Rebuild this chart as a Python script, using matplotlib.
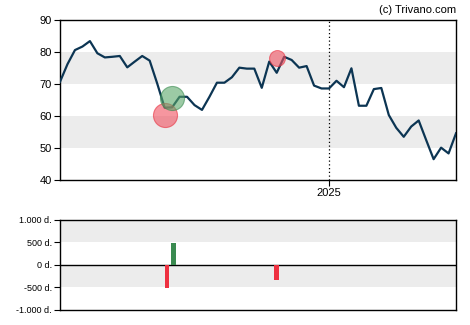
import matplotlib
matplotlib.use('Agg')
import matplotlib.pyplot as plt

# weekly closing prices
prices = [70.7, 76.2, 80.6, 81.7, 83.4, 79.6, 78.3, 78.5, 78.75, 75.2,
          77.0, 78.75, 77.3, 70.2, 62.6, 62.7, 66.0, 66.0, 63.4, 61.9,
          66.0, 70.4, 70.4, 72.1, 75.1, 74.8, 74.8, 68.8, 77.0, 73.5,
          78.5, 77.5, 75.1, 75.6, 69.5, 68.6, 68.6, 71.0, 69.0, 74.9,
          63.2, 63.2, 68.4, 68.75, 60.3, 56.3, 53.5, 56.7, 58.6, 52.5,
          46.5, 50.1, 48.3, 54.6]
year_start = 36
year_label = '2025'

# signal bubbles: position, price level, size, kind
bubble_x = [14.0, 15.05, 29.0]
bubble_y = [60.2, 65.5, 78.0]
bubble_s = [300, 300, 130]
bubble_kind = ['sell', 'buy', 'sell']

# insider volume bars (thousands)
bar_x = [14.3, 15.2, 29.0]
bar_v = [-510, 490, -330]

main_ticks = [40, 50, 60, 70, 80, 90]
vol_ticks = [-1000, -500, 0, 500, 1000]
vol_labels = ['-1.000 d.', '-500 d.', '0 d.', '500 d.', '1.000 d.']

plt.rcParams['font.family'] = ['Liberation Sans', 'DejaVu Sans']

fig = plt.figure(figsize=(4.7, 3.25), dpi=100)
ax = fig.add_axes([0.1277, 0.4462, 0.8426, 0.4923])
ax2 = fig.add_axes([0.1277, 0.0462, 0.8426, 0.2769])

colors = {'buy': ('#5aa86a', '#3a8a50'), 'sell': ('#f0505f', '#e8303f')}

# main price chart
for lo, hi in [(50, 60), (70, 80)]:
    ax.axhspan(lo, hi, color='#ececec', zorder=0, lw=0)
ax.plot(range(len(prices)), prices, color='#0c3553', lw=1.6, zorder=3)
for x, y, s, k in zip(bubble_x, bubble_y, bubble_s, bubble_kind):
    fc, ec = colors[k]
    ax.scatter(x, y, s=s, color=fc, alpha=0.6, edgecolors=ec, linewidths=0.8, zorder=4)
ax.axvline(year_start, color='black', ls=(0, (1, 2)), lw=0.9, zorder=2)
ax.set_xlim(0, len(prices) - 1)
ax.set_ylim(40, 90)
ax.set_yticks(main_ticks)
ax.set_xticks([year_start])
ax.set_xticklabels([year_label])
ax.tick_params(labelsize=8, length=4, width=0.8, colors='black', pad=2)
for sp in ax.spines.values():
    sp.set_linewidth(1.0)

fig.text(0.970, 0.968, '(c) Trivano.com', ha='right', va='center', fontsize=8)

# volume chart
for lo, hi in [(500, 1000), (-500, 0)]:
    ax2.axhspan(lo, hi, color='#ececec', zorder=0, lw=0)
ax2.axhline(0, color='black', lw=1.0, zorder=2)
bar_colors = ['#3a8a50' if v > 0 else '#ee3040' for v in bar_v]
ax2.bar(bar_x, bar_v, width=0.6, color=bar_colors, zorder=3)
ax2.set_xlim(0, len(prices) - 1)
ax2.set_ylim(-1000, 1000)
ax2.set_yticks(vol_ticks)
ax2.set_yticklabels(vol_labels)
ax2.set_xticks([])
ax2.tick_params(labelsize=6.5, length=4, width=0.8, colors='black', pad=2)
for sp in ax2.spines.values():
    sp.set_linewidth(1.0)

fig.savefig('out.png', dpi=100)
